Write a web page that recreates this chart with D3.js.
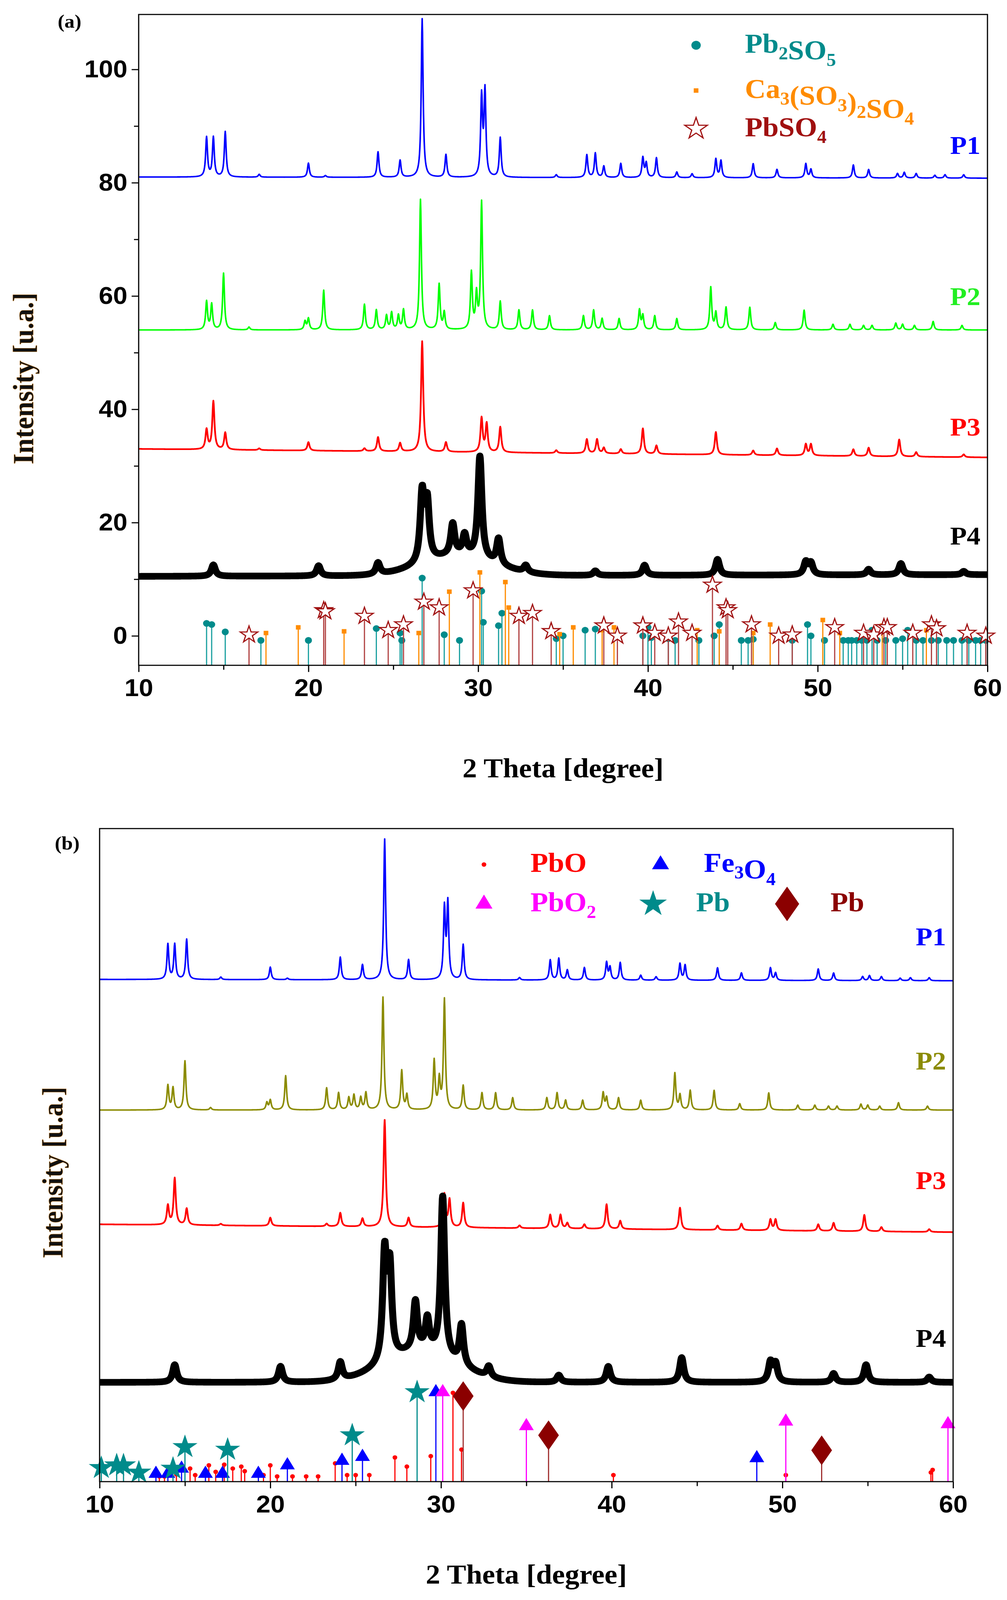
<!DOCTYPE html>
<html><head>
<meta charset="UTF-8">
<title>XRD patterns</title>
<script src="https://d3js.org/d3.v7.min.js"></script>
<style>
  html, body { margin: 0; padding: 0; background: white; overflow: hidden; }
  svg { display: block; }
  text { font-family: "Liberation Serif", serif; font-weight: bold; }
  .tick text { font-family: "Liberation Sans", Arial, sans-serif; font-weight: bold; }
</style>
</head>
<body>
<script>
// peak lists: [2theta, height above baseline]
var peaksP1 = [[14.0,7],[14.4,7],[15.1,8],[17.1,0.5],[20.0,2.5],[21.0,0.3],[24.1,4.5],[25.4,3],[26.7,28],[28.1,4],
  [30.2,14],[30.4,15],[31.3,7],[34.6,0.5],[36.4,4],[36.9,4.3],[37.4,2],[38.4,2.5],[39.7,3.5],[39.9,2.5],[40.5,3.5],
  [41.7,1],[42.6,0.7],[44.0,3.3],[44.3,3],[46.2,2.5],[47.6,1.5],[49.3,2.5],[49.6,1.5],[52.1,2.3],[53.0,1.5],
  [54.7,0.8],[55.1,1],[55.8,0.8],[56.9,0.5],[57.5,0.6],[58.6,0.6]];
var peaksP2 = [[14.0,5],[14.3,4.5],[15.0,10],[16.5,0.5],[19.8,1.5],[20.0,2],[20.9,7],[23.3,4.5],[24.0,3.5],[24.6,2.5],
  [24.9,3],[25.3,2.5],[25.6,3.5],[26.6,23],[27.7,8],[28.0,3],[29.6,10],[29.9,6],[30.2,22.5],[31.3,5],[32.4,3.5],
  [33.2,3.5],[34.2,2.5],[36.2,2.5],[36.8,3.5],[37.3,2],[38.3,2],[39.5,3.5],[39.7,2.5],[40.4,2.5],[41.7,2],
  [43.7,7.5],[44.0,3],[44.6,4],[46.0,4],[47.5,1.3],[49.2,3.5],[50.9,1],[51.9,1],[52.7,0.8],[53.2,0.8],
  [54.6,1.2],[55.0,1],[55.7,0.8],[56.8,1.5],[58.5,0.8]];
var peaksP3 = [[14.0,3.5],[14.4,8.5],[15.1,3],[17.1,0.3],[20.0,1.5],[23.3,0.5],[24.1,2.5],[25.4,1.5],[26.7,19.5],
  [28.1,1.7],[30.2,6],[30.5,5],[31.3,4.5],[34.6,0.5],[36.4,2.5],[37.0,2.5],[37.4,1],[38.4,0.8],[39.7,4.5],
  [40.5,1.5],[44.0,4],[46.2,0.8],[47.6,1.2],[49.3,2],[49.6,2],[52.1,1.2],[53.0,1.5],[54.8,3],[55.8,0.8],[58.6,0.5]];
var peaksP4 = [[14.4,2],[20.6,1.8],[24.1,2],[26.7,12],[27.0,10],[28.5,5.5],[29.2,3.5],[30.1,18],[31.2,4.5],[32.8,1.2],
  [36.9,0.8],[39.8,1.8],[44.1,2.8],[49.3,2.2],[49.6,2],[53.0,1],[54.9,2],[58.6,0.6]];
// broad amorphous hump under P4: [centre, height, fwhm]
var humpP4 = [[28.8,3.5,5]];

// panel (a) reference sticks: [2theta, top value]
var refPb2SO5 = [[14.0,2.2],[14.3,2],[15.1,0.7],[17.2,-0.8],[20.0,-0.8],[24.0,1.3],[25.4,0.5],[25.5,-0.8],[26.7,10.2],
  [28.0,0.2],[28.9,-0.8],[30.2,7.9],[30.3,2.4],[31.2,1.8],[31.4,4],[34.6,-0.5],[35.0,0],[36.3,1.0],[36.9,1.2],
  [39.7,0],[40.0,1.5],[40.2,-0.3],[41.2,-0.5],[41.6,-0.8],[43.0,-0.8],[43.9,0],[44.2,2],[45.5,-0.8],[45.9,-0.8],
  [46.2,-0.6],[48.5,-0.8],[49.4,2],[49.6,0],[50.4,-0.8],[51.5,-0.8],[51.8,-0.8],[52.0,-0.8],[52.3,-0.8],[52.6,-0.8],
  [52.9,-0.8],[53.2,1],[53.5,-0.8],[54.0,-0.8],[54.6,-0.8],[55.0,-0.5],[55.3,1],[55.8,-0.8],[56.2,-0.8],[56.7,-0.8],
  [57.1,-0.8],[57.6,-0.8],[58.0,-0.8],[58.5,-0.8],[58.9,-0.8],[59.3,-0.8],[59.6,-0.8],[59.9,-0.8]];
var refCa3 = [[17.5,0.5],[19.4,1.5],[22.1,0.8],[26.5,0.5],[28.3,7.8],[30.1,11.2],[31.6,9.5],[31.8,5],[34.8,0.3],
  [35.6,1.5],[37.3,1],[38.0,1.5],[42.9,1],[44.2,0.8],[46.2,0.5],[47.2,2],[50.3,2.8],[51.3,0.5],[53.8,1.8],[56.4,1]];
var refPbSO4 = [[16.5,0.2],[20.9,4.5],[21.0,4.3],[23.3,3.5],[24.7,1],[25.6,2],[26.8,6],[27.7,5],[29.7,8],[32.4,3.5],
  [33.2,4],[34.3,0.8],[37.4,1.8],[38.2,0],[39.7,1.8],[40.4,0.5],[41.2,0],[41.8,2.5],[42.6,0.5],[43.8,9],[44.6,5],
  [44.7,4.5],[46.1,2],[47.7,0],[48.5,0.2],[51.0,1.5],[52.7,0.5],[53.3,0.2],[53.9,1.5],[54.1,1.5],[55.6,0.5],
  [56.7,2],[57.0,1.3],[58.8,0.5],[59.9,0]];

// panel (b) reference sticks (units 0..100 from plot bottom)
var refPb = [[10.1,2.1],[11.0,2.5],[11.4,2.5],[12.3,1.4],[14.3,2],[15.0,5.3],[17.5,4.9],[24.8,7.1],[28.6,13.7]];
var refFe3O4 = [[13.3,1.2],[14.0,1.2],[14.8,2],[16.2,1.2],[17.2,1.2],[19.3,1.2],[21.0,2.5],[24.2,3.2],[25.4,3.8],[29.7,13.7],[48.5,3.6]];
var refPbO2 = [[30.1,13.7],[35.0,8.5],[50.2,9.2],[59.7,8.8]];
var refPbDia = [[31.3,13.1],[36.3,7.1],[52.3,4.8]];
var refPbO = [[13.5,0.8],[13.8,0.8],[14.5,1.1],[15.3,2],[15.6,1],[16.4,2.5],[16.8,1.5],[17.3,2.6],[17.8,2],[18.3,2.3],
  [18.5,1.6],[19.6,1],[20.0,2.5],[20.4,0.8],[21.3,0.8],[22.1,0.8],[22.8,0.8],[23.8,2.8],[24.5,1],[25.0,1],[25.8,1],
  [27.3,3.7],[28.0,2.3],[29.4,3.9],[30.7,13.6],[31.2,4.9],[40.1,1],[50.2,1],[58.7,1.4],[58.8,1.8]];

var xTicks = [10, 20, 30, 40, 50, 60];
var yTicksA = [0, 20, 40, 60, 80, 100];

function profile(peaks, base0, base1, scale, fwhm, humps) {
  var pts = [];
  for (var x = 10; x <= 60.0001; x += 0.02) {
    var y = base0 + (base1 - base0) * (x - 10) / 50;
    peaks.forEach(function(p) {
      var d = (x - p[0]) / (fwhm / 2);
      y += scale * p[1] / (1 + d * d);
    });
    (humps || []).forEach(function(h) {
      var d = (x - h[0]) / (h[2] / 2);
      y += scale * h[1] * Math.exp(-Math.LN2 * d * d);
    });
    pts.push([x, y]);
  }
  return pts;
}

// the figure is laid out on a 2578x4312 canvas and fitted to the visible window
var W = 2578, H = 4312;
var svg = d3.select("body").append("svg")
  .attr("width", window.innerWidth || W).attr("height", Math.min(window.innerHeight || H, H))
  .attr("viewBox", "0 0 " + W + " " + H).attr("preserveAspectRatio", "none");

function panel(cfg) {
  var x = d3.scaleLinear().domain([10, 60]).range([cfg.left, cfg.right]);
  var y = d3.scaleLinear().domain(cfg.ydom).range([cfg.bottom, cfg.top]);
  var g = svg.append("g");

  var line = d3.line().x(function(d) { return x(d[0]); }).y(function(d) { return y(d[1]); });
  cfg.series.forEach(function(s) {
    g.append("path").datum(profile(s.peaks, s.b0, s.b1, s.scale, s.fwhm, s.humps))
      .attr("fill", "none").attr("stroke", s.color).attr("stroke-width", s.sw)
      .attr("stroke-linejoin", "round").attr("d", line);
    g.append("text").attr("x", cfg.right - 18).attr("y", s.ly).attr("text-anchor", "end")
      .attr("font-size", 70).attr("fill", s.color === "#00ff00" ? "#22ee22" : s.color).text(s.label);
  });

  cfg.refs.forEach(function(r) {
    r.data.forEach(function(d) {
      g.append("line").attr("x1", x(d[0])).attr("x2", x(d[0]))
        .attr("y1", cfg.bottom).attr("y2", y(d[1]))
        .attr("stroke", r.stem).attr("stroke-width", 3);
      drawSym(g, r.sym, x(d[0]), y(d[1]), r.size, r.color);
    });
  });

  // axes
  var xAxis = d3.axisBottom(x).tickValues(d3.range(10, 61, 5)).tickSize(14)
    .tickFormat(function(d) { return xTicks.indexOf(d) >= 0 ? d : ""; });
  var xa = g.append("g").attr("transform", "translate(0," + cfg.bottom + ")").call(xAxis);
  xa.selectAll(".tick line").attr("stroke-width", 3).attr("y2", function(d) { return d % 10 === 0 ? 18 : 12; });
  xa.selectAll(".tick text").attr("font-size", 66).attr("dy", "1.0em");
  xa.select(".domain").remove();
  if (cfg.yticks) {
    var yAxis = d3.axisLeft(y).tickValues(d3.range(0, 101, 10))
      .tickFormat(function(d) { return yTicksA.indexOf(d) >= 0 ? d : ""; });
    var ya = g.append("g").attr("transform", "translate(" + cfg.left + ",0)").call(yAxis);
    ya.selectAll(".tick line").attr("stroke-width", 3).attr("x2", function(d) { return d % 20 === 0 ? -18 : -12; });
    ya.selectAll(".tick text").attr("font-size", 66).attr("dx", "-0.3em");
    ya.select(".domain").remove();
  }
  g.append("rect").attr("x", cfg.left).attr("y", cfg.top)
    .attr("width", cfg.right - cfg.left).attr("height", cfg.bottom - cfg.top)
    .attr("fill", "none").attr("stroke", "black").attr("stroke-width", 3);

  g.append("text").attr("x", (cfg.left + cfg.right) / 2).attr("y", cfg.xtitleY)
    .attr("text-anchor", "middle").attr("font-size", 74).text("2 Theta [degree]");
  g.append("text").attr("transform", "translate(" + cfg.ytitleX + "," + cfg.ytitleY + ") rotate(-90)")
    .attr("text-anchor", "middle").attr("font-size", 74).attr("fill", "#111")
    .attr("stroke", "#c87814").attr("stroke-width", 0.8).text("Intensity [u.a.]");
  g.append("text").attr("x", cfg.tagX).attr("y", cfg.tagY).attr("text-anchor", "middle")
    .attr("font-size", 52).text(cfg.tag);

  cfg.legend.forEach(function(l) {
    drawSym(g, l.sym, l.sx, l.y - 20, l.size, l.color);
    var t = g.append("text").attr("x", l.tx).attr("y", l.y).attr("font-size", 74).attr("fill", l.tcolor);
    l.parts.forEach(function(p) {
      if (typeof p === "string") t.append("tspan").text(p);
      else t.append("tspan").attr("font-size", 48).attr("dy", 18).text(p[0])
        .clone(true).attr("font-size", 74).attr("dy", -18).text("");
    });
  });
}

function drawSym(g, sym, cx, cy, size, color) {
  if (sym === "dot") {
    g.append("circle").attr("cx", cx).attr("cy", cy).attr("r", size).attr("fill", color);
  } else if (sym === "square") {
    g.append("rect").attr("x", cx - size).attr("y", cy - size).attr("width", 2 * size).attr("height", 2 * size).attr("fill", color);
  } else if (sym === "hstar") {
    g.append("path").attr("transform", "translate(" + cx + "," + cy + ")")
      .attr("d", d3.symbol().type(d3.symbolStar).size(size * size * 3.2)())
      .attr("fill", "white").attr("stroke", color).attr("stroke-width", 3);
  } else {
    var type = sym === "tri" ? d3.symbolTriangle : sym === "star" ? d3.symbolStar : d3.symbolDiamond;
    g.append("path").attr("transform", "translate(" + cx + "," + cy + ")" + (sym === "diamond" ? " scale(1.15,1)" : ""))
      .attr("d", d3.symbol().type(type).size(size * size * 3.2)()).attr("fill", color);
  }
}

var teal = "#008b8b", orange = "#ff8c00", dred = "#a01010";

panel({
  left: 355, right: 2528, top: 39, bottom: 1793, ydom: [-5.2, 109.7], yticks: true,
  xtitleY: 2095, ytitleX: 85, ytitleY: 1020, tag: "(a)", tagX: 178, tagY: 75,
  series: [
    {peaks: peaksP1, b0: 81, b1: 80.8, scale: 1, fwhm: 0.13, color: "#0000ff", sw: 4, label: "P1", ly: 415},
    {peaks: peaksP2, b0: 54, b1: 54, scale: 1, fwhm: 0.13, color: "#00ff00", sw: 4, label: "P2", ly: 822},
    {peaks: peaksP3, b0: 33, b1: 31.5, scale: 1, fwhm: 0.15, color: "#ff0000", sw: 4.5, label: "P3", ly: 1174},
    {peaks: peaksP4, b0: 10.5, b1: 10.8, scale: 1, fwhm: 0.28, humps: humpP4, color: "#000000", sw: 18, label: "P4", ly: 1468}
  ],
  refs: [
    {data: refPb2SO5, sym: "dot", size: 9, color: teal, stem: "#1aa0a0"},
    {data: refCa3, sym: "square", size: 6, color: orange, stem: orange},
    {data: refPbSO4, sym: "hstar", size: 14, color: dred, stem: "#b04040"}
  ],
  legend: [
    {sym: "dot", sx: 1782, y: 142, size: 12, color: teal, tx: 1907, tcolor: teal, parts: ["Pb", ["2"], "SO", ["5"]]},
    {sym: "square", sx: 1782, y: 264, size: 6, color: orange, tx: 1907, tcolor: orange, parts: ["Ca", ["3"], "(SO", ["3"], ")", ["2"], "SO", ["4"]]},
    {sym: "hstar", sx: 1782, y: 367, size: 18, color: dred, tx: 1907, tcolor: dred, parts: ["PbSO", ["4"]]}
  ]
});

panel({
  left: 255, right: 2440, top: 2233, bottom: 3993, ydom: [0, 100], yticks: false,
  xtitleY: 4268, ytitleX: 160, ytitleY: 3160, tag: "(b)", tagX: 172, tagY: 2290,
  series: [
    {peaks: peaksP1, b0: 76.9, b1: 76.7, scale: 0.77, fwhm: 0.13, color: "#0000ff", sw: 4, label: "P1", ly: 2548},
    {peaks: peaksP2, b0: 56.9, b1: 56.9, scale: 0.75, fwhm: 0.13, color: "#8b8b00", sw: 4, label: "P2", ly: 2882},
    {peaks: peaksP3, b0: 39.4, b1: 38.2, scale: 0.84, fwhm: 0.15, color: "#ff0000", sw: 4.5, label: "P3", ly: 3204},
    {peaks: peaksP4, b0: 15.2, b1: 15.2, scale: 1.35, fwhm: 0.28, humps: humpP4, color: "#000000", sw: 18, label: "P4", ly: 3630}
  ],
  refs: [
    {data: refPbO, sym: "dot", size: 6, color: "#ff0000", stem: "#ff0000"},
    {data: refFe3O4, sym: "tri", size: 14, color: "#0000ff", stem: "#0000ff"},
    {data: refPbO2, sym: "tri", size: 14, color: "#ff00ff", stem: "#ff00ff"},
    {data: refPb, sym: "star", size: 20, color: teal, stem: teal},
    {data: refPbDia, sym: "diamond", size: 24, color: "#8b0000", stem: "#a03030"}
  ],
  legend: [
    {sym: "dot", sx: 1239, y: 2350, size: 6, color: "#ff0000", tx: 1358, tcolor: "#ff0000", parts: ["PbO"]},
    {sym: "tri", sx: 1691, y: 2350, size: 16, color: "#0000ff", tx: 1802, tcolor: "#0000ff", parts: ["Fe", ["3"], "O", ["4"]]},
    {sym: "tri", sx: 1239, y: 2456, size: 16, color: "#ff00ff", tx: 1358, tcolor: "#ff00ff", parts: ["PbO", ["2"]]},
    {sym: "star", sx: 1672, y: 2456, size: 22, color: teal, tx: 1782, tcolor: teal, parts: ["Pb"]},
    {sym: "diamond", sx: 2015, y: 2456, size: 28, color: "#8b0000", tx: 2126, tcolor: "#8b0000", parts: ["Pb"]}
  ]
});
</script>
</body>
</html>
